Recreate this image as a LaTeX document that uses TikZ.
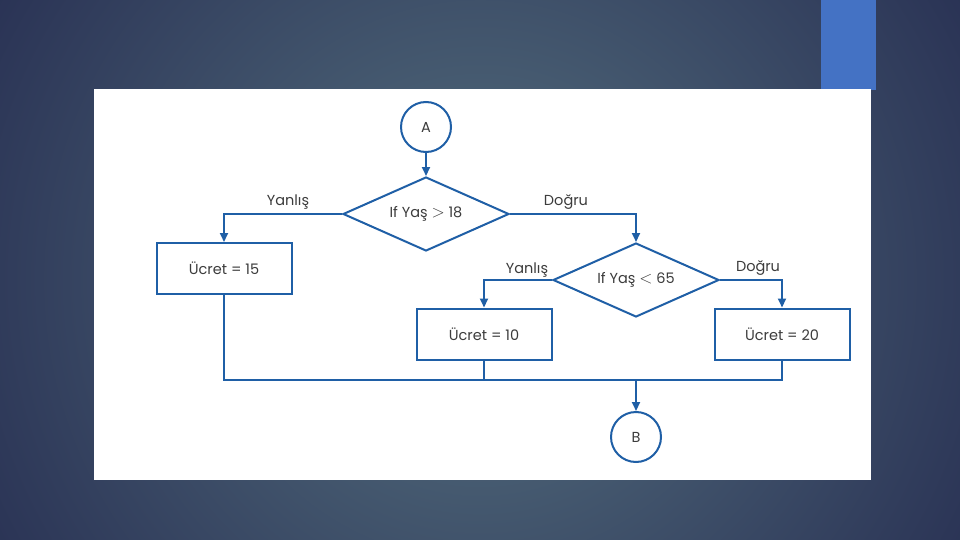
\documentclass[tikz,border=0pt]{standalone}
\usepackage{fontspec}
\setmainfont{Poppins}
\usetikzlibrary{shapes.geometric,arrows.meta}
\definecolor{lineblue}{HTML}{1F5FA6}
\definecolor{txtgray}{HTML}{3C3C3C}
\definecolor{bgin}{HTML}{55707F}
\definecolor{bgout}{HTML}{2A3355}
\definecolor{accent}{HTML}{4472C4}
\newcommand{\bigrel}[1]{{\fontsize{18}{18}\selectfont$#1$}}
\begin{document}
\begin{tikzpicture}[x=1pt,y=-1pt,
  conn/.style={draw=lineblue,line width=2pt},
  arr/.style={conn,-{Triangle[length=9pt,width=8pt]}},
  txt/.style={text=txtgray,font=\fontsize{14.5}{17}\selectfont},
  term/.style={circle,draw=lineblue,line width=2pt,fill=white,minimum size=50pt,inner sep=0pt,txt},
  decision/.style={diamond,draw=lineblue,line width=2pt,minimum width=166pt,minimum height=74pt,inner sep=0pt,aspect=2.24,txt},
  proc/.style={rectangle,draw=lineblue,line width=2pt,minimum width=135pt,minimum height=51pt,inner sep=0pt,txt},
  lbl/.style={txt,inner sep=0pt}]
\useasboundingbox (0,0) rectangle (960,540);
\begin{scope}
\clip (0,0) rectangle (960,540);
\shade[inner color=bgin,outer color=bgout] (480,280) circle (560);
\end{scope}
\fill[accent] (821,0) rectangle (876,90);
\fill[white] (94,89) rectangle (871,480);

\node[term] (A) at (426,127) {A};
\node[decision] (d1) at (426,214) {If Yaş \bigrel{>} 18};
\node[proc] (p15) at (224,268.5) {Ücret = 15};
\node[decision] (d2) at (636,280) {If Yaş \bigrel{<} 65};
\node[proc] (p10) at (484,334) {Ücret = 10};
\node[proc] (p20) at (782,334) {Ücret = 20};
\node[term] (B) at (636,437) {B};

\coordinate (j1) at (224,380);
\coordinate (j2) at (782,380);
\coordinate (jm) at (636,380);

\node[lbl] (y1) at (288,202) {Yanlış};
\node[lbl] (t1) at (566,202) {Doğru};
\node[lbl] (y2) at (527,270) {Yanlış};
\node[lbl] (t2) at (758,268) {Doğru};

\draw[arr] (A) -- (d1);
\draw[arr] (d1.west) -| (p15.north);
\draw[arr] (d1.east) -| (d2.north);
\draw[arr] (d2.west) -| (p10.north);
\draw[arr] (d2.east) -| (p20.north);
\draw[conn] (p15.south) -- (j1) -- (j2) -- (p20.south);
\draw[conn] (p10.south) -- (p10.south |- j1);
\draw[arr] (jm) -- (B);
\end{tikzpicture}
\end{document}
